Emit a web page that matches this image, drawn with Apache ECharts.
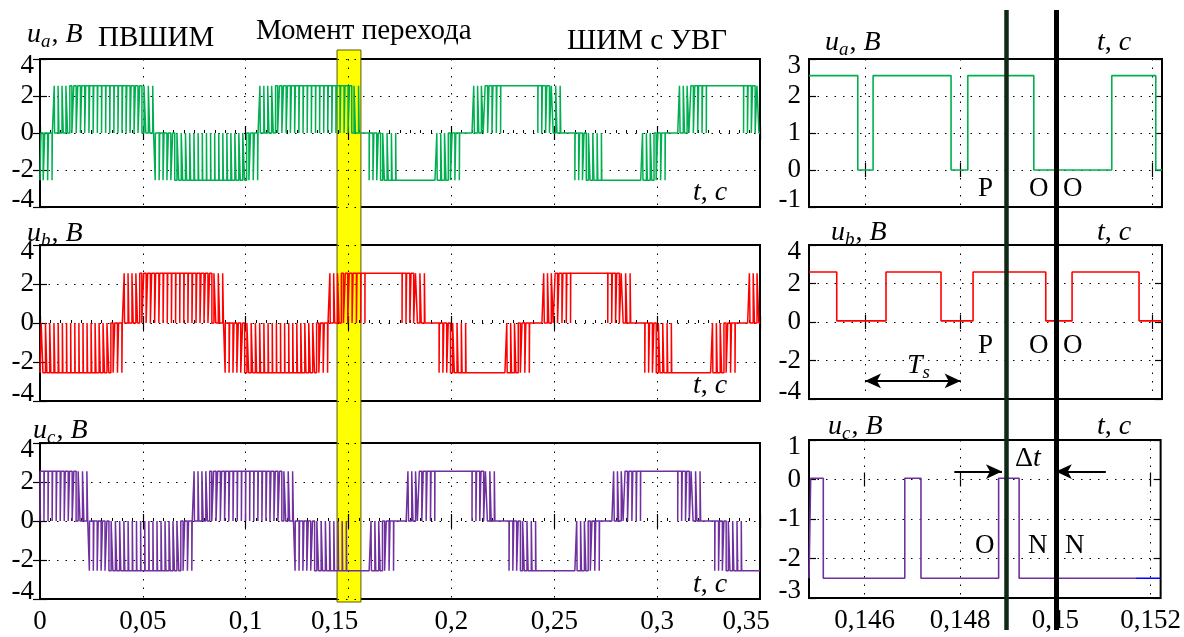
<!DOCTYPE html>
<html><head><meta charset="utf-8">
<script src="https://cdn.jsdelivr.net/npm/echarts@6/dist/echarts.min.js"></script>
<style>html,body{margin:0;padding:0;background:#fff}#c{width:1184px;height:637px}</style>
</head><body><div id="c"></div>
<script>
// ---------------- data ----------------
const TS = 0.002;      // switching period, s
const LEVEL = 2.55;    // P level of the left-hand records, V

// signed duty per switching period: v>0 -> share of P (rest O), v<0 -> share of N (rest O)
const uaDuty = [
 -0.45,-0.3,-0.15,0.08,
 0.2,0.3,0.4,0.5,0.58,0.66,0.72,0.78,0.83,0.87,0.9,0.91,0.92,0.91,0.9,0.87,0.83,0.78,0.72,0.64,0.55,0.45,0.34,0.2,
 -0.08,
 -0.2,-0.3,-0.4,-0.5,-0.58,-0.66,-0.72,-0.78,-0.83,-0.87,-0.9,-0.91,-0.92,-0.91,-0.9,-0.87,-0.83,-0.78,-0.72,-0.64,-0.55,-0.45,-0.34,-0.2,
 0.08,
 0.2,0.3,0.4,0.5,0.58,0.66,0.72,0.78,0.83,0.87,0.9,0.91,0.92,0.91,0.9,0.88,0.86,0.85,0.83,0.82,0.75,
 0.55,0.35,0.15,0,0,
 -0.15,-0.3,-0.45,-0.6,-0.72,-0.82,-0.9,-1,-1,-1,-1,-1,-1,-1,-1,-1,-0.9,-0.78,-0.64,-0.48,-0.32,-0.15,0,0,0,
 0.15,0.3,0.45,0.6,0.72,0.82,0.9,1,1,1,1,1,1,1,1,1,0.9,0.78,0.64,0.48,0.32,0.15,0,0,0,
 -0.15,-0.3,-0.45,-0.6,-0.72,-0.82,-0.9,-1,-1,-1,-1,-1,-1,-1,-1,-1,-0.9,-0.78,-0.64,-0.48,-0.32,-0.15,0,0,0,
 0.15,0.3,0.45,0.6,0.72,0.82,0.9,1,1,1,1,1,1,1,1,1,0.9,0.78,0.64,0.48
];
const ubDuty = [
 -0.58,-0.66,-0.72,-0.78,-0.83,-0.87,-0.9,-0.91,-0.92,-0.91,-0.9,-0.87,-0.83,-0.78,-0.72,-0.64,-0.55,-0.45,-0.34,-0.2,
 0.08,
 0.2,0.3,0.4,0.5,0.58,0.66,0.72,0.78,0.83,0.87,0.9,0.91,0.92,0.91,0.9,0.87,0.83,0.78,0.72,0.64,0.55,0.45,0.34,0.2,
 -0.08,
 -0.2,-0.3,-0.4,-0.5,-0.58,-0.66,-0.72,-0.78,-0.83,-0.87,-0.9,-0.91,-0.92,-0.91,-0.9,-0.87,-0.83,-0.78,-0.72,-0.64,-0.55,-0.45,-0.34,-0.2,
 0.08,
 0.25,0.38,0.5,0.6,
 0.7,0.8,0.9,0.95,1,1,1,1,1,1,1,1,1,0.9,0.78,0.64,0.48,0.32,0.15,
 0,0,0,-0.15,-0.3,-0.45,-0.6,-0.72,-0.82,-0.9,-1,-1,-1,-1,-1,-1,-1,-1,-1,-0.9,-0.78,-0.64,-0.48,-0.32,-0.15,
 0,0,0,0.15,0.3,0.45,0.6,0.72,0.82,0.9,1,1,1,1,1,1,1,1,1,0.9,0.78,0.64,0.48,0.32,0.15,
 0,0,0,-0.15,-0.3,-0.45,-0.6,-0.72,-0.82,-0.9,-1,-1,-1,-1,-1,-1,-1,-1,-1,-0.9,-0.78,-0.64,-0.48,-0.32,-0.15,
 0,0,0,0.15,0.3,0.45
];
const ucDuty = [
 0.92,0.91,0.9,0.87,0.83,0.78,0.72,0.64,0.55,0.45,0.34,0.2,
 -0.08,
 -0.2,-0.3,-0.4,-0.5,-0.58,-0.66,-0.72,-0.78,-0.83,-0.87,-0.9,-0.91,-0.92,-0.91,-0.9,-0.87,-0.83,-0.78,-0.72,-0.64,-0.55,-0.45,-0.34,-0.2,
 0.08,
 0.2,0.3,0.4,0.5,0.58,0.66,0.72,0.78,0.83,0.87,0.9,0.91,0.92,0.91,0.9,0.87,0.83,0.78,0.72,0.64,0.55,0.45,0.34,0.2,
 -0.08,
 -0.2,-0.3,-0.4,-0.5,-0.58,-0.66,-0.72,-0.78,-0.83,-0.87,-0.9,-0.91,
 -1,-1,-1,-1,-1,-0.9,-0.78,-0.64,-0.48,-0.32,-0.15,
 0,0,0,0.15,0.3,0.45,0.6,0.72,0.82,0.9,1,1,1,1,1,1,1,1,1,0.9,0.78,0.64,0.48,0.32,0.15,
 0,0,0,-0.15,-0.3,-0.45,-0.6,-0.72,-0.82,-0.9,-1,-1,-1,-1,-1,-1,-1,-1,-1,-0.9,-0.78,-0.64,-0.48,-0.32,-0.15,
 0,0,0,0.15,0.3,0.45,0.6,0.72,0.82,0.9,1,1,1,1,1,1,1,1,1,0.9,0.78,0.64,0.48,0.32,0.15,
 0,0,0,-0.15,-0.3,-0.45,-0.6,-0.72,-0.82,-0.9,
 -1,-1,-1,-1
];

// zoomed records (right column): switching instants and the level held after each
const zaTimes  = [0.14483, 0.14585, 0.14617, 0.1478, 0.14815, 0.14953, 0.15116, 0.15208, 0.15221];
const zaLevels = [2.55, 0, 2.55, 0, 2.55, 0, 2.55, 0, 0];
const zbTimes  = [0.14483, 0.14541, 0.14644, 0.14759, 0.14826, 0.14978, 0.15033, 0.15173, 0.15221];
const zbLevels = [2.6, 0.06, 2.6, 0.06, 2.6, 0.06, 2.6, 0.06, 0.06];
const zcTimes  = [0.14483, 0.144865, 0.14513, 0.14684, 0.14718, 0.14881, 0.14924, 0.15168];
const zcLevels = [-2.5, 0.03, -2.5, 0.03, -2.5, 0.03, -2.5, -2.5];
const zcTailTimes  = [0.15168, 0.15221];
const zcTailLevels = [-2.5, -2.5];

const leftRange = [0, 0.35], leftStep = 0.05;
const rightRange = [0.14483, 0.15221];
const rightTicks = [0.146, 0.148, 0.15, 0.152];
const leftY = [[-4, 4, 2], [-4, 4, 2], [-4, 4, 2]];
const rightY = [[-1, 3, 1], [-4, 4, 2], [-3, 1, 1]];

const transitionBand = [0.1444, 0.156];      // "Момент перехода"
const switchInstants = [0.14896, 0.15];      // thick vertical lines
const tsSpan = [0.146, 0.148], tsLevel = -3.06;
const dtLeft = [0.14788, 0.14888], dtRight = [0.15106, 0.15001], dtLevel = 0.2;
const stateRows = [['P', 'O', 'O'], ['P', 'O', 'O'], ['O', 'N', 'N']];

// ---------------- build ----------------
const F = 'Liberation Serif';
const GREEN = '#00b050', RED = '#ff0000', PURPLE = '#7030a0', BLUE = '#0000ff';

function pwmPoints(duty) {
  const pts = []; let last = 0;
  duty.forEach((v, k) => {
    const t0 = k * TS, t1 = t0 + TS, w = Math.abs(v) * TS, c = t0 + TS / 2;
    if (v >= 1) { pts.push([t0, LEVEL]); last = LEVEL; }
    else if (v <= -1) { pts.push([t0, -LEVEL]); last = -LEVEL; }
    else if (v === 0) { pts.push([t0, 0]); last = 0; }
    else if (v > 0) { pts.push([t0, 0], [c - w / 2, LEVEL], [c + w / 2, 0]); last = 0; }
    else { pts.push([t0, -LEVEL], [t0 + w / 2, 0], [t1 - w / 2, -LEVEL]); last = -LEVEL; }
  });
  pts.push([duty.length * TS, last]);
  return pts;
}
const zip = (ts, ls) => ts.map((t, i) => [t, ls[i]]);
const fmt = v => String(+(+v).toFixed(3)).replace('.', ',');

const grids = [
  {left: 40, top: 59, width: 720, height: 148},
  {left: 40, top: 245, width: 720, height: 156},
  {left: 40, top: 443, width: 720, height: 156},
  {left: 809, top: 59, width: 353, height: 148},
  {left: 809, top: 245, width: 353, height: 154},
  {left: 809, top: 440, width: 353, height: 158},
  {left: 40, top: 50, width: 720, height: 552},
  {left: 809, top: 10, width: 353, height: 620}
].map((g, i) => Object.assign({show: i < 6, borderColor: '#000', borderWidth: 2, backgroundColor: 'rgba(0,0,0,0)'}, g));

const dotted = {color: '#000', type: [1.5, 7], width: 1};
const tickStyle = {inside: true, length: 7, lineStyle: {color: '#000', width: 1.2}};
const labelFont = {fontFamily: F, fontSize: 27, color: '#000'};

const xAxes = [], yAxes = [];
for (let i = 0; i < 6; i++) {
  const left = i < 3;
  const bottomLabels = (i === 2 || i === 5);
  const base = {type: 'value', gridIndex: i, z: 3,
    min: left ? leftRange[0] : rightRange[0], max: left ? leftRange[1] : rightRange[1],
    axisLine: {show: false}};
  if (left) base.interval = leftStep;
  const tick = left ? Object.assign({}, tickStyle) : Object.assign({customValues: rightTicks}, tickStyle);
  xAxes.push(Object.assign({}, base, {position: 'bottom',
    axisTick: tick,
    minorTick: left ? {show: true, splitNumber: 10, length: 3, lineStyle: {color: '#000'}} : {show: false},
    splitLine: {show: true, lineStyle: dotted},
    axisLabel: bottomLabels ? Object.assign({show: true, margin: 9,
      formatter: v => { const s = fmt(v); return (left && (Math.abs(v - 0.15) < 1e-9 || Math.abs(v - 0.35) < 1e-9)) ? '{l|' + s + '}' : s; },
      rich: {l: {fontFamily: F, fontSize: 27, color: '#000', padding: [0, 28, 0, 0]}}
    }, left ? {} : {customValues: rightTicks}, labelFont) : {show: false}}));
}
for (let i = 0; i < 6; i++) {
  const left = i < 3;
  xAxes.push({type: 'value', gridIndex: i, position: 'top', z: 3,
    min: left ? leftRange[0] : rightRange[0], max: left ? leftRange[1] : rightRange[1],
    interval: left ? leftStep : undefined,
    axisLine: {show: false}, axisTick: left ? tickStyle : Object.assign({customValues: rightTicks}, tickStyle),
    axisLabel: {show: false}, splitLine: {show: false}});
}
xAxes.push({type: 'value', gridIndex: 6, min: leftRange[0], max: leftRange[1], show: false});
xAxes.push({type: 'value', gridIndex: 7, min: rightRange[0], max: rightRange[1], show: false});

for (let i = 0; i < 6; i++) {
  const r = i < 3 ? leftY[i] : rightY[i - 3];
  yAxes.push({type: 'value', gridIndex: i, z: 3, min: r[0], max: r[1], interval: r[2],
    axisLine: {show: false}, axisTick: tickStyle, splitLine: {show: true, lineStyle: dotted},
    axisLabel: Object.assign({margin: i < 3 ? 6 : 8, lineHeight: 14,
      verticalAlignMaxLabel: 'top', verticalAlignMinLabel: 'bottom'}, labelFont)});
}
for (let i = 0; i < 6; i++) {
  const r = i < 3 ? leftY[i] : rightY[i - 3];
  yAxes.push({type: 'value', gridIndex: i, position: 'right', z: 3, min: r[0], max: r[1], interval: r[2],
    axisLine: {show: false}, axisTick: tickStyle, axisLabel: {show: false}, splitLine: {show: false}});
}
yAxes.push({type: 'value', gridIndex: 6, min: 0, max: 1, show: false});
yAxes.push({type: 'value', gridIndex: 7, min: 0, max: 1, show: false});

const lineSeries = (xi, data, color, width, extra) => Object.assign({
  type: 'line', xAxisIndex: xi, yAxisIndex: xi, data, step: 'end', showSymbol: false, symbol: 'none',
  lineStyle: {color, width}, z: 4, silent: true, animation: false, clip: true
}, extra || {});

const solidEdge = {xAxis: 0.152, symbol: 'none', lineStyle: {color: '#000', width: 1.3, type: 'solid'}};
const mlBase = {silent: true, symbol: ['none', 'none'], label: {show: false}, animation: false,
  lineStyle: {color: '#000', width: 2, type: 'solid'}};

const series = [
  lineSeries(0, pwmPoints(uaDuty), GREEN, 1.5),
  lineSeries(1, pwmPoints(ubDuty), RED, 1.5),
  lineSeries(2, pwmPoints(ucDuty), PURPLE, 1.5),
  lineSeries(3, zip(zaTimes, zaLevels), GREEN, 1.6, {markLine: Object.assign({}, mlBase, {data: [solidEdge]})}),
  lineSeries(4, zip(zbTimes, zbLevels), RED, 1.6, {markLine: Object.assign({}, mlBase, {symbolSize: [11, 16], data: [
    solidEdge,
    [{coord: [tsSpan[0], tsLevel], symbol: 'arrow'}, {coord: [tsSpan[1], tsLevel], symbol: 'arrow'}]
  ]})}),
  lineSeries(5, zip(zcTimes, zcLevels), PURPLE, 1.6, {markLine: Object.assign({}, mlBase, {symbolSize: [11, 16], data: [
    solidEdge,
    [{coord: [dtLeft[0], dtLevel], symbol: 'none'}, {coord: [dtLeft[1], dtLevel], symbol: 'arrow'}],
    [{coord: [dtRight[0], dtLevel], symbol: 'none'}, {coord: [dtRight[1], dtLevel], symbol: 'arrow'}]
  ]})}),
  lineSeries(5, zip(zcTailTimes, zcTailLevels), BLUE, 1.6),
  {type: 'line', xAxisIndex: 12, yAxisIndex: 12, data: [], z: 1, silent: true, animation: false,
    markArea: {silent: true, animation: false, itemStyle: {color: '#ffff00', borderColor: '#5a5a00', borderWidth: 1},
      data: [[{xAxis: transitionBand[0]}, {xAxis: transitionBand[1]}]]}},
  {type: 'line', xAxisIndex: 13, yAxisIndex: 13, data: [], z: 10, silent: true, animation: false,
    markLine: Object.assign({}, mlBase, {data: [
      [{coord: [switchInstants[0], 0], lineStyle: {color: '#0f2916', width: 4.5, type: 'solid'}}, {coord: [switchInstants[0], 1]}],
      [{coord: [switchInstants[1], 0], lineStyle: {color: '#000', width: 5, type: 'solid'}}, {coord: [switchInstants[1], 1]}]
    ]})}
];

// ---------------- texts ----------------
const T = (x, y, text, size, extra) => ({type: 'text', x, y, z: 20, silent: true,
  style: Object.assign({text, fill: '#000', font: size + 'px "' + F + '"', align: 'left', verticalAlign: 'middle'}, extra || {})});
const it = (s) => ({fontFamily: F, fontSize: s, fontStyle: 'italic', fill: '#000'});
const uLabel = (x, y, sub) => T(x, y, '{u|u}{s|' + sub + '}{n|, }{u|B}', 28, {rich: {
  u: it(28), n: {fontFamily: F, fontSize: 28, fill: '#000'}, s: Object.assign(it(19), {padding: [14, 1, 0, 0]})}});
const tLabel = (x, y) => T(x, y, '{u|t}{n|, }{u|c}', 28, {rich: {u: it(28), n: {fontFamily: F, fontSize: 28, fill: '#000'}}});

const graphic = [
  T(98, 38, 'ПВШИМ', 29), T(256, 31, 'Момент перехода', 29), T(567, 41, 'ШИМ с УВГ', 29),
  uLabel(27, 35, 'a'), uLabel(27, 234, 'b'), uLabel(33, 431, 'c'),
  tLabel(693, 193), tLabel(693, 386), tLabel(693, 585),
  uLabel(825, 43, 'a'), uLabel(831, 233, 'b'), uLabel(828, 427, 'c'),
  tLabel(1097, 43), tLabel(1097, 233), tLabel(1097, 427),
  T(907, 366, '{u|T}{s|s}', 28, {rich: {u: it(28), s: Object.assign(it(19), {padding: [14, 0, 0, 0]})}}),
  T(1015, 459, '{n|Δ}{u|t}', 28, {rich: {u: it(28), n: {fontFamily: F, fontSize: 28, fill: '#000'}}})
];
const stateX = [[978, 1029, 1063], [978, 1029, 1063], [975, 1028, 1065]];
const stateY = [189, 346, 546];
stateRows.forEach((row, r) => row.forEach((s, j) => graphic.push(T(stateX[r][j], stateY[r], s, 27))));

const chart = echarts.init(document.getElementById('c'), null, {renderer: 'canvas'});
chart.setOption({animation: false, backgroundColor: '#fff', textStyle: {fontFamily: F},
  grid: grids, xAxis: xAxes, yAxis: yAxes, series, graphic});
</script></body></html>
